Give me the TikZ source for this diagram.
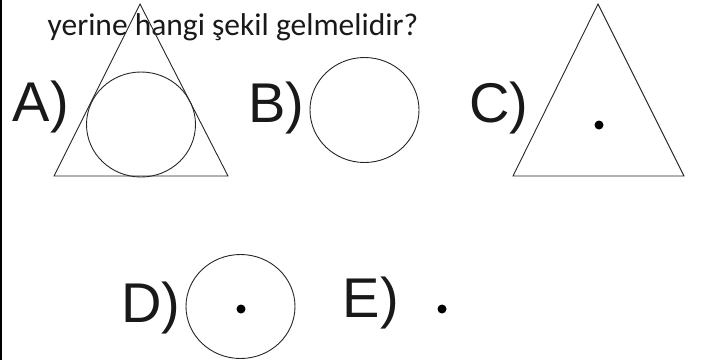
\documentclass[tikz,border=0pt]{standalone}
\usepackage{fontspec}
\setmainfont{Liberation Sans}
\newfontfamily\qfont{Carlito}
\tikzset{
  shape line/.style={draw=black!85, line width=0.9pt},
  optlabel/.style={inner sep=0pt, anchor=base west, font=\fontsize{56}{60}\selectfont, text=black!90},
  dotmark/.style={fill=black},
}
\begin{document}
\begin{tikzpicture}[x=1pt,y=-1pt]
\useasboundingbox (0,0) rectangle (702,360);
\draw[line width=1.6pt] (1,0) -- (1,360);
% question text
\node[inner sep=0pt, anchor=base west, font=\qfont\fontsize{31.5}{36}\selectfont, text=black!90] (q) at (47.5,35.5) {yerine hangi şekil gelmelidir?};
% A
\node[optlabel] (la) at (12.5,121) {A)};
\coordinate (a1) at (140,4);
\coordinate (a2) at (54,176);
\coordinate (a3) at (228,176);
\draw[shape line] (a1) -- (a2) -- (a3) -- cycle;
\coordinate (ac) at (141,124.5);
\draw[shape line] (ac) ellipse [x radius=54.5, y radius=52.5];
% B
\node[optlabel] (lb) at (248,122) {B)};
\coordinate (bc) at (364.5,110);
\draw[shape line] (bc) ellipse [x radius=54.5, y radius=52.5];
% C
\node[optlabel] (lc) at (469,122) {C)};
\coordinate (c1) at (598,4);
\coordinate (c2) at (513,176);
\coordinate (c3) at (684,176);
\draw[shape line] (c1) -- (c2) -- (c3) -- cycle;
\fill[dotmark] (599,125) circle (4.5);
% D
\node[optlabel] (ld) at (121,322) {D)};
\coordinate (dc) at (240.5,306.5);
\draw[shape line] (dc) ellipse [x radius=54.5, y radius=52];
\fill[dotmark] (241,309) circle (4.5);
% E
\node[optlabel] (le) at (342.5,317) {E)};
\fill[dotmark] (442,309) circle (4.5);
\end{tikzpicture}
\end{document}
